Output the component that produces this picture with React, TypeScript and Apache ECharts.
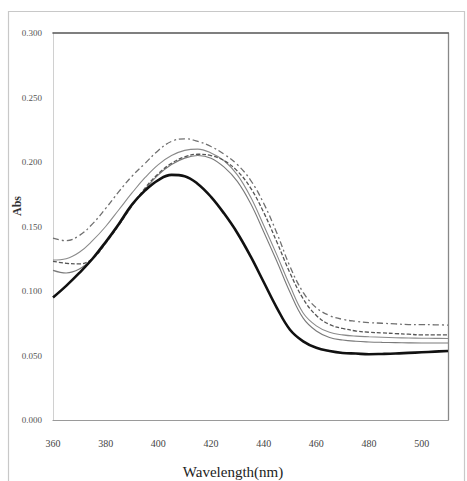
import React, { useEffect, useRef } from "react";
import * as echarts from "echarts";

const wavelengths = [360, 365, 370, 375, 380, 385, 390, 395, 400, 405, 410, 415, 420, 425, 430, 435, 440, 445, 450, 455, 460, 465, 470, 475, 480, 485, 490, 495, 500, 505, 510];

const seriesA = [0.095, 0.104, 0.114, 0.125, 0.138, 0.152, 0.167, 0.178, 0.186, 0.19, 0.189, 0.183, 0.173, 0.16, 0.145, 0.127, 0.107, 0.087, 0.07, 0.061, 0.056, 0.0535, 0.052, 0.0515, 0.051, 0.0512, 0.0515, 0.052, 0.0525, 0.053, 0.0535];
const seriesB = [0.141, 0.139, 0.143, 0.152, 0.164, 0.177, 0.189, 0.199, 0.209, 0.216, 0.218, 0.216, 0.212, 0.206, 0.198, 0.186, 0.168, 0.145, 0.119, 0.099, 0.087, 0.081, 0.078, 0.0765, 0.0755, 0.075, 0.0745, 0.074, 0.074, 0.0738, 0.0736];
const seriesC = [0.123, 0.1215, 0.121, 0.125, 0.137, 0.151, 0.166, 0.18, 0.191, 0.199, 0.204, 0.206, 0.205, 0.201, 0.193, 0.18, 0.161, 0.138, 0.114, 0.094, 0.081, 0.074, 0.071, 0.069, 0.068, 0.0675, 0.067, 0.0665, 0.066, 0.066, 0.066];
const seriesD = [0.124, 0.125, 0.13, 0.139, 0.15, 0.163, 0.176, 0.188, 0.198, 0.205, 0.209, 0.21, 0.207, 0.201, 0.19, 0.173, 0.151, 0.128, 0.104, 0.083, 0.073, 0.068, 0.066, 0.065, 0.0645, 0.0641, 0.0638, 0.0636, 0.0634, 0.0633, 0.0632];
const seriesE = [0.116, 0.114, 0.117, 0.125, 0.137, 0.151, 0.166, 0.179, 0.19, 0.198, 0.203, 0.205, 0.203, 0.196, 0.185, 0.168, 0.146, 0.123, 0.099, 0.079, 0.069, 0.064, 0.062, 0.061, 0.0605, 0.0602, 0.06, 0.0598, 0.0597, 0.0597, 0.0597];

const xTitle = "Wavelength(nm)";
const yTitle = "Abs";
const FONT = "Liberation Serif, DejaVu Serif, serif";

function pairs(vals: number[]) {
  return wavelengths.map((w, i) => [w, vals[i]]);
}

export default function App() {
  const ref = useRef<HTMLDivElement>(null);
  useEffect(() => {
    if (!ref.current) return;
    const chart = echarts.init(ref.current, undefined, { renderer: "svg" });
    const mk = (name: string, vals: number[], color: string, width: number, type: any, z: number) => ({
      name,
      type: "line",
      data: pairs(vals),
      smooth: 0.4,
      showSymbol: false,
      z,
      lineStyle: { color, width, type },
    });
    chart.setOption({
      animation: false,
      backgroundColor: "#ffffff",
      grid: { left: 53, top: 33, right: 19, bottom: 61, show: false },
      xAxis: [
        {
          type: "value",
          min: 360,
          max: 510,
          interval: 20,
          axisLine: { show: true, lineStyle: { color: "#9a9a9a", width: 1.2 } },
          axisTick: { show: false },
          splitLine: { show: false },
          axisLabel: {
            showMaxLabel: false,
            margin: 18,
            fontFamily: FONT,
            fontSize: 10,
            color: "#444",
          },
        },
        {
          type: "value",
          position: "top",
          min: 360,
          max: 510,
          axisLine: { show: true, onZero: false, lineStyle: { color: "#555", width: 1.6 } },
          axisTick: { show: false },
          axisLabel: { show: false },
          splitLine: { show: false },
        },
      ],
      yAxis: [
        {
          type: "value",
          min: 0,
          max: 0.3,
          interval: 0.05,
          axisLine: { show: true, lineStyle: { color: "#d0d0d0", width: 1 } },
          axisTick: { show: false },
          splitLine: { show: false },
          axisLabel: {
            margin: 11,
            fontFamily: FONT,
            fontSize: 9,
            color: "#555",
            formatter: (v: number) => v.toFixed(3),
          },
        },
        {
          type: "value",
          position: "right",
          min: 0,
          max: 0.3,
          axisLine: { show: true, onZero: false, lineStyle: { color: "#888", width: 1.3 } },
          axisTick: { show: false },
          axisLabel: { show: false },
          splitLine: { show: false },
        },
      ],
      series: [
        mk("B", seriesB, "#707070", 1.3, [6, 3, 2, 3], 2),
        mk("C", seriesC, "#555555", 1.3, [4, 2], 3),
        mk("D", seriesD, "#8a8a8a", 1.1, "solid", 2),
        mk("E", seriesE, "#7a7a7a", 1.1, "solid", 2),
        mk("A", seriesA, "#111111", 2.6, "solid", 5),
      ],
      graphic: [
        {
          type: "rect",
          shape: { x: 8.5, y: 11.5, width: 456, height: 480 },
          style: { fill: "none", stroke: "#c8c8c8", lineWidth: 1.2 },
          z: -1,
          silent: true,
        },
        {
          type: "text",
          x: 233,
          y: 472,
          style: {
            text: xTitle,
            fontFamily: FONT,
            fontSize: 15,
            fill: "#222",
            align: "center",
            verticalAlign: "middle",
          },
        },
        {
          type: "text",
          x: 17,
          y: 206,
          rotation: Math.PI / 2,
          style: {
            text: yTitle,
            fontFamily: FONT,
            fontSize: 12,
            fontWeight: "bold",
            fill: "#333",
            align: "center",
            verticalAlign: "middle",
          },
        },
      ],
    });
    return () => chart.dispose();
  }, []);
  return (
    <div
      ref={ref}
      style={{ position: "fixed", left: 0, top: 0, width: 467, height: 481, background: "#fff" }}
    />
  );
}
